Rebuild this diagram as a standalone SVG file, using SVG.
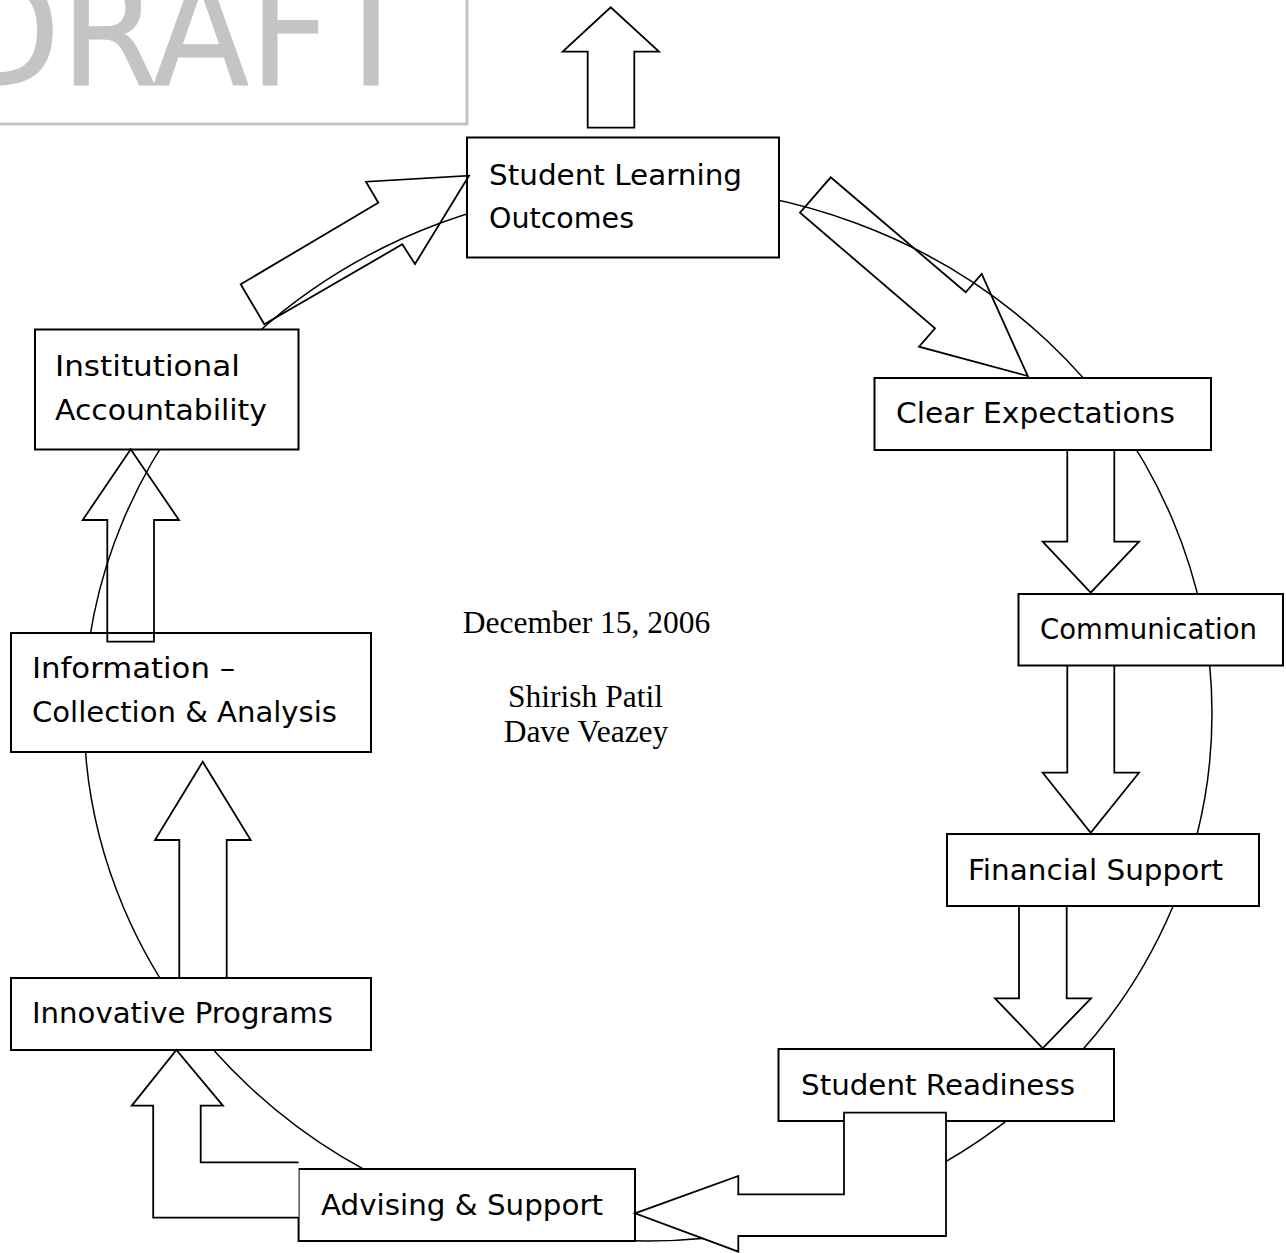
<svg xmlns="http://www.w3.org/2000/svg" width="1286" height="1253" viewBox="0 0 1286 1253">
<style>
.box{fill:#fff;stroke:#000;stroke-width:2}
.lbl{font-family:"DejaVu Sans","Liberation Sans",sans-serif;font-size:29px;fill:#000}
.ser{font-family:"Liberation Serif","Times New Roman",serif;font-size:31.5px;fill:#000;text-anchor:middle}
.arr{fill:none;stroke:#000;stroke-width:1.8;stroke-linejoin:miter}
.arrw{fill:#fff;stroke:#000;stroke-width:1.8;stroke-linejoin:miter}
.cyc{fill:none;stroke:#000;stroke-width:1.5}
</style>
<rect width="1286" height="1253" fill="#fff"/>
<g id="watermark">
<rect x="-10" y="-10" width="477" height="134" fill="none" stroke="#c4c4c4" stroke-width="3"/>
<text x="-48" y="85" font-family="'DejaVu Sans',sans-serif" font-size="150" fill="#c4c4c4" stroke="#c4c4c4" stroke-width="1" stroke-linejoin="round" textLength="462" lengthAdjust="spacingAndGlyphs">DRAFT</text>
</g>
<g id="connectors-cycle">
<ellipse class="cyc" cx="648" cy="713.5" rx="564" ry="527.5"/>
</g>
<g id="node-slo">
<rect class="box" x="467" y="137.5" width="312" height="120"/>
<text class="lbl" x="489" y="185" textLength="253" lengthAdjust="spacingAndGlyphs">Student Learning</text>
<text class="lbl" x="489" y="228" textLength="145" lengthAdjust="spacingAndGlyphs">Outcomes</text>
</g>
<g id="node-clear">
<rect class="box" x="874.5" y="378" width="336.5" height="72"/>
<text class="lbl" x="896" y="423" textLength="279" lengthAdjust="spacingAndGlyphs">Clear Expectations</text>
</g>
<g id="node-comm">
<rect class="box" x="1018.5" y="594" width="264.5" height="71.5"/>
<text class="lbl" x="1040" y="639" textLength="217" lengthAdjust="spacingAndGlyphs">Communication</text>
</g>
<g id="node-fin">
<rect class="box" x="947" y="834" width="312" height="72"/>
<text class="lbl" x="968" y="880" textLength="255" lengthAdjust="spacingAndGlyphs">Financial Support</text>
</g>
<g id="node-ready">
<rect class="box" x="778.5" y="1049" width="335.5" height="72"/>
<text class="lbl" x="801" y="1095" textLength="274" lengthAdjust="spacingAndGlyphs">Student Readiness</text>
</g>
<g id="node-advising">
<rect class="box" x="298.6" y="1169" width="336.4" height="72"/>
<text class="lbl" x="321" y="1215" textLength="282" lengthAdjust="spacingAndGlyphs">Advising &amp; Support</text>
</g>
<g id="node-innov">
<rect class="box" x="11" y="978" width="360" height="72"/>
<text class="lbl" x="32" y="1023" textLength="301" lengthAdjust="spacingAndGlyphs">Innovative Programs</text>
</g>
<g id="node-info">
<rect class="box" x="11" y="633" width="360" height="119"/>
<text class="lbl" x="32" y="678" textLength="203" lengthAdjust="spacingAndGlyphs">Information –</text>
<text class="lbl" x="32" y="722" textLength="305" lengthAdjust="spacingAndGlyphs">Collection &amp; Analysis</text>
</g>
<g id="node-inst">
<rect class="box" x="35" y="329.5" width="263.5" height="120"/>
<text class="lbl" x="55" y="376" textLength="185" lengthAdjust="spacingAndGlyphs">Institutional</text>
<text class="lbl" x="55" y="420" textLength="212" lengthAdjust="spacingAndGlyphs">Accountability</text>
</g>
<g id="center-text">
<text class="ser" x="586.5" y="633">December 15, 2006</text>
<text class="ser" x="585.5" y="707">Shirish Patil</text>
<text class="ser" x="586" y="742">Dave Veazey</text>
</g>
<g id="connectors">
<path class="arr" d="M587.7,127.7 L587.7,51.7 L562.7,51.7 L610.7,7.3 L659,51.7 L634.3,51.7 L634.3,127.7 Z"/>
<path class="arr" d="M830.7,177.3 L965.7,292.3 L981.7,274 L1027.7,376 L919,346.7 L935,328.3 L800,212.7 Z"/>
<path class="arr" d="M1067.3,450 L1067.3,541.7 L1042.7,541.7 L1090.7,592.7 L1139,541.7 L1114.3,541.7 L1114.3,450"/>
<path class="arr" d="M1067.3,666 L1067.3,772.7 L1042.7,772.7 L1090.7,832.7 L1139,772.7 L1114.3,772.7 L1114.3,666"/>
<path class="arr" d="M1019,906 L1019,998.3 L995,998.3 L1042.7,1048.3 L1091,998.3 L1066.7,998.3 L1066.7,906"/>
<path class="arrw" d="M844,1112.7 L946,1112.7 L946,1236 L738.3,1236 L738.3,1251.7 L635,1213.3 L738.3,1176 L738.3,1194.3 L844,1194.3 Z"/>
<path class="arrw" d="M298.6,1162.3 L200.7,1162.3 L200.7,1105.7 L222.9,1105.7 L176.4,1050 L131.8,1105.7 L153.2,1105.7 L153.2,1217.7 L298.6,1217.7"/>
<path class="arr" d="M179.3,977.7 L179.3,840 L155,840 L202.7,761.7 L250.7,840 L226.7,840 L226.7,977.7"/>
<path class="arr" d="M107.3,641.7 L107.3,520 L82.7,520 L130.7,449.3 L179,520 L154,520 L154,641.7 Z"/>
<path class="arr" d="M264.3,324.3 L402.3,244.3 L415,264 L469,175.7 L366,181.7 L378.3,202.7 L240.7,284.3 Z"/>
</g>
</svg>
